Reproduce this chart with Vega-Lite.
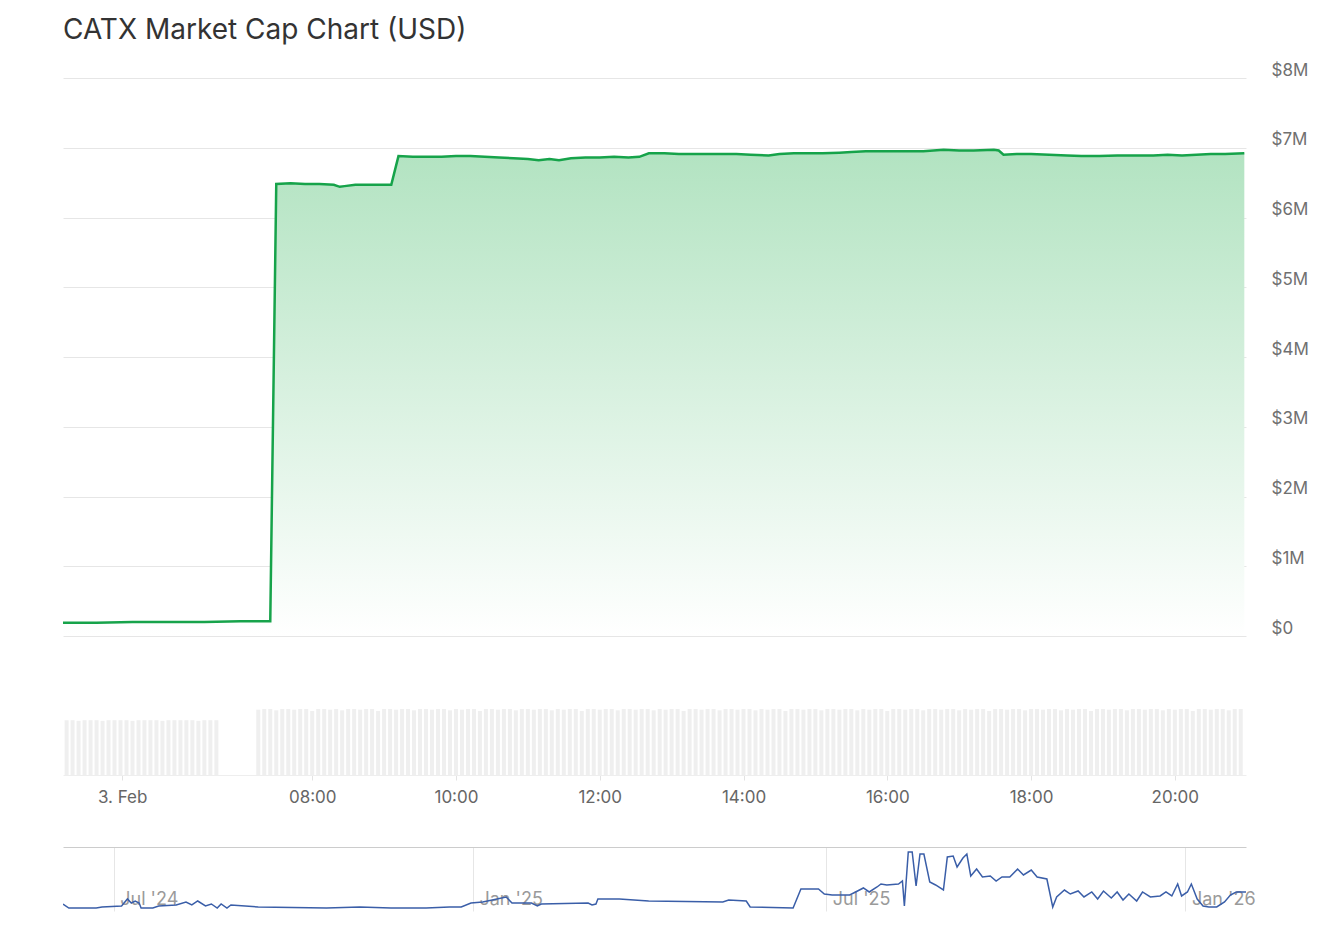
{
  "$schema": "https://vega.github.io/schema/vega-lite/v6.json",
  "padding": {"left": 58, "top": 17, "right": 10, "bottom": 10},
  "background": "white",
  "title": {"text": "CATX Market Cap Chart (USD)", "anchor": "start", "frame": "group", "font": "Inter", "fontSize": 28, "fontWeight": 400, "color": "#333333", "offset": 16},
  "config": {"view": {"stroke": null}, "font": "Inter"},
  "spacing": 42,
  "datasets": {
    "volume": [
      {"m":275,"vol":83},{"m":280,"vol":83},{"m":285,"vol":82},{"m":290,"vol":83},{"m":295,"vol":83},{"m":300,"vol":83},{"m":305,"vol":82},{"m":310,"vol":83},{"m":315,"vol":83},{"m":320,"vol":83},{"m":325,"vol":83},{"m":330,"vol":82},{"m":335,"vol":83},{"m":340,"vol":83},{"m":345,"vol":83},{"m":350,"vol":83},{"m":355,"vol":82},{"m":360,"vol":83},{"m":365,"vol":83},{"m":370,"vol":83},{"m":375,"vol":83},{"m":380,"vol":83},{"m":385,"vol":82},{"m":390,"vol":83},{"m":395,"vol":83},{"m":400,"vol":83},
      {"m":435,"vol":99},{"m":440,"vol":100},{"m":445,"vol":100},{"m":450,"vol":98},{"m":455,"vol":100},{"m":460,"vol":100},{"m":465,"vol":99},{"m":470,"vol":100},{"m":475,"vol":100},{"m":480,"vol":97},{"m":485,"vol":100},{"m":490,"vol":100},{"m":495,"vol":99},{"m":500,"vol":100},{"m":505,"vol":98},{"m":510,"vol":100},{"m":515,"vol":100},{"m":520,"vol":99},{"m":525,"vol":100},{"m":530,"vol":100},{"m":535,"vol":97},{"m":540,"vol":100},{"m":545,"vol":100},{"m":550,"vol":99},{"m":555,"vol":100},{"m":560,"vol":100},{"m":565,"vol":98},{"m":570,"vol":100},{"m":575,"vol":100},{"m":580,"vol":99},{"m":585,"vol":100},{"m":590,"vol":100},{"m":595,"vol":98},{"m":600,"vol":100},{"m":605,"vol":99},{"m":610,"vol":100},{"m":615,"vol":100},{"m":620,"vol":97},{"m":625,"vol":100},{"m":630,"vol":100},{"m":635,"vol":99},{"m":640,"vol":100},{"m":645,"vol":100},{"m":650,"vol":98},{"m":655,"vol":100},{"m":660,"vol":100},{"m":665,"vol":99},{"m":670,"vol":100},{"m":675,"vol":100},{"m":680,"vol":98},{"m":685,"vol":100},{"m":690,"vol":99},{"m":695,"vol":100},{"m":700,"vol":100},{"m":705,"vol":97},{"m":710,"vol":100},{"m":715,"vol":100},{"m":720,"vol":99},{"m":725,"vol":100},{"m":730,"vol":100},{"m":735,"vol":98},{"m":740,"vol":100},{"m":745,"vol":100},{"m":750,"vol":99},{"m":755,"vol":100},{"m":760,"vol":100},{"m":765,"vol":98},{"m":770,"vol":100},{"m":775,"vol":99},{"m":780,"vol":100},{"m":785,"vol":100},{"m":790,"vol":97},{"m":795,"vol":100},{"m":800,"vol":100},{"m":805,"vol":99},{"m":810,"vol":100},{"m":815,"vol":100},{"m":820,"vol":98},{"m":825,"vol":100},{"m":830,"vol":100},{"m":835,"vol":99},{"m":840,"vol":100},{"m":845,"vol":100},{"m":850,"vol":98},{"m":855,"vol":100},{"m":860,"vol":99},{"m":865,"vol":100},{"m":870,"vol":100},{"m":875,"vol":97},{"m":880,"vol":100},{"m":885,"vol":100},{"m":890,"vol":99},{"m":895,"vol":100},{"m":900,"vol":100},{"m":905,"vol":98},{"m":910,"vol":100},{"m":915,"vol":100},{"m":920,"vol":99},{"m":925,"vol":100},{"m":930,"vol":100},{"m":935,"vol":98},{"m":940,"vol":100},{"m":945,"vol":99},{"m":950,"vol":100},{"m":955,"vol":100},{"m":960,"vol":97},{"m":965,"vol":100},{"m":970,"vol":100},{"m":975,"vol":99},{"m":980,"vol":100},{"m":985,"vol":100},{"m":990,"vol":98},{"m":995,"vol":100},{"m":1000,"vol":100},{"m":1005,"vol":99},{"m":1010,"vol":100},{"m":1015,"vol":100},{"m":1020,"vol":98},{"m":1025,"vol":100},{"m":1030,"vol":99},{"m":1035,"vol":100},{"m":1040,"vol":100},{"m":1045,"vol":97},{"m":1050,"vol":100},{"m":1055,"vol":100},{"m":1060,"vol":99},{"m":1065,"vol":100},{"m":1070,"vol":100},{"m":1075,"vol":98},{"m":1080,"vol":100},{"m":1085,"vol":100},{"m":1090,"vol":99},{"m":1095,"vol":100},{"m":1100,"vol":100},{"m":1105,"vol":98},{"m":1110,"vol":100},{"m":1115,"vol":99},{"m":1120,"vol":100},{"m":1125,"vol":100},{"m":1130,"vol":97},{"m":1135,"vol":100},{"m":1140,"vol":100},{"m":1145,"vol":99},{"m":1150,"vol":100},{"m":1155,"vol":100},{"m":1160,"vol":98},{"m":1165,"vol":100},{"m":1170,"vol":100},{"m":1175,"vol":99},{"m":1180,"vol":100},{"m":1185,"vol":100},{"m":1190,"vol":98},{"m":1195,"vol":100},{"m":1200,"vol":99},{"m":1205,"vol":100},{"m":1210,"vol":100},{"m":1215,"vol":97},{"m":1220,"vol":100},{"m":1225,"vol":100},{"m":1230,"vol":99},{"m":1235,"vol":100},{"m":1240,"vol":100},{"m":1245,"vol":98},{"m":1250,"vol":100},{"m":1255,"vol":100}
    ],
    "cap": [
      {"m":272,"cap":0.19},{"m":300,"cap":0.19},{"m":330,"cap":0.2},{"m":360,"cap":0.2},{"m":390,"cap":0.2},{"m":420,"cap":0.21},{"m":445,"cap":0.21},
      {"m":450,"cap":6.48},{"m":462,"cap":6.49},{"m":474,"cap":6.48},{"m":486,"cap":6.48},{"m":498,"cap":6.47},{"m":503,"cap":6.44},{"m":507,"cap":6.45},{"m":516,"cap":6.47},{"m":528,"cap":6.47},{"m":540,"cap":6.47},{"m":546,"cap":6.47},
      {"m":552,"cap":6.88},{"m":564,"cap":6.87},{"m":576,"cap":6.87},{"m":588,"cap":6.87},{"m":600,"cap":6.88},{"m":612,"cap":6.88},{"m":624,"cap":6.87},{"m":636,"cap":6.86},{"m":648,"cap":6.85},{"m":660,"cap":6.84},{"m":669,"cap":6.82},{"m":678,"cap":6.84},{"m":686,"cap":6.82},{"m":696,"cap":6.85},{"m":708,"cap":6.86},{"m":720,"cap":6.86},{"m":732,"cap":6.87},{"m":744,"cap":6.86},{"m":753,"cap":6.87},
      {"m":761,"cap":6.92},{"m":774,"cap":6.92},{"m":786,"cap":6.91},{"m":798,"cap":6.91},{"m":810,"cap":6.91},{"m":822,"cap":6.91},{"m":834,"cap":6.91},{"m":846,"cap":6.9},{"m":861,"cap":6.89},{"m":870,"cap":6.91},{"m":882,"cap":6.92},{"m":894,"cap":6.92},{"m":906,"cap":6.92},{"m":920,"cap":6.93},{"m":930,"cap":6.94},{"m":942,"cap":6.95},{"m":954,"cap":6.95},{"m":966,"cap":6.95},{"m":978,"cap":6.95},{"m":990,"cap":6.95},{"m":1007,"cap":6.97},{"m":1020,"cap":6.96},{"m":1032,"cap":6.96},{"m":1049,"cap":6.97},{"m":1053,"cap":6.96},
      {"m":1057,"cap":6.9},{"m":1068,"cap":6.91},{"m":1080,"cap":6.91},{"m":1095,"cap":6.9},{"m":1110,"cap":6.89},{"m":1122,"cap":6.88},{"m":1137,"cap":6.88},{"m":1152,"cap":6.89},{"m":1170,"cap":6.89},{"m":1182,"cap":6.89},{"m":1194,"cap":6.9},{"m":1206,"cap":6.89},{"m":1218,"cap":6.9},{"m":1230,"cap":6.91},{"m":1242,"cap":6.91},{"m":1258,"cap":6.92}
    ],
    "nav": [
      {"date":"2024-06-05","v":2.54},{"date":"2024-06-08","v":1.09},{"date":"2024-06-22","v":1.09},{"date":"2024-06-25","v":1.45},{"date":"2024-07-05","v":1.82},{"date":"2024-07-08","v":4.36},{"date":"2024-07-10","v":2.9},{"date":"2024-07-12","v":3.63},{"date":"2024-07-14","v":2.9},{"date":"2024-07-15","v":1.09},{"date":"2024-07-21","v":1.09},{"date":"2024-07-24","v":1.82},{"date":"2024-08-02","v":2.18},{"date":"2024-08-07","v":3.27},{"date":"2024-08-10","v":2.18},{"date":"2024-08-13","v":3.63},{"date":"2024-08-17","v":1.82},{"date":"2024-08-20","v":2.54},{"date":"2024-08-23","v":1.09},{"date":"2024-08-25","v":2.54},{"date":"2024-08-28","v":1.09},{"date":"2024-08-30","v":2.18},{"date":"2024-09-13","v":1.45},{"date":"2024-10-18","v":1.09},{"date":"2024-11-04","v":1.45},{"date":"2024-11-20","v":1.09},{"date":"2024-12-08","v":1.09},{"date":"2024-12-20","v":1.45},{"date":"2024-12-26","v":1.45},{"date":"2024-12-31","v":2.9},
      {"date":"2025-01-06","v":3.27},{"date":"2025-01-18","v":5.08},{"date":"2025-01-21","v":2.9},{"date":"2025-01-31","v":2.9},{"date":"2025-02-03","v":1.82},{"date":"2025-02-05","v":2.54},{"date":"2025-03-01","v":2.9},{"date":"2025-03-03","v":2.18},{"date":"2025-03-05","v":2.54},{"date":"2025-03-06","v":4.36},{"date":"2025-03-17","v":4.36},{"date":"2025-04-01","v":3.63},{"date":"2025-05-09","v":3.27},{"date":"2025-05-12","v":3.99},{"date":"2025-05-21","v":3.63},{"date":"2025-05-23","v":1.45},{"date":"2025-06-14","v":1.09},{"date":"2025-06-18","v":7.99},{"date":"2025-06-27","v":7.99},{"date":"2025-06-30","v":6.17},
      {"date":"2025-07-04","v":5.81},{"date":"2025-07-13","v":5.81},{"date":"2025-07-16","v":6.9},{"date":"2025-07-20","v":8.35},{"date":"2025-07-23","v":6.9},{"date":"2025-07-27","v":8.71},{"date":"2025-07-29","v":9.8},{"date":"2025-08-01","v":9.44},{"date":"2025-08-07","v":9.8},{"date":"2025-08-09","v":10.89},{"date":"2025-08-10","v":1.82},{"date":"2025-08-12","v":21.42},{"date":"2025-08-14","v":21.42},{"date":"2025-08-16","v":9.08},{"date":"2025-08-18","v":20.69},{"date":"2025-08-20","v":20.69},{"date":"2025-08-23","v":10.53},{"date":"2025-08-26","v":9.44},{"date":"2025-08-30","v":7.62},{"date":"2025-09-01","v":19.6},{"date":"2025-09-04","v":19.97},{"date":"2025-09-06","v":15.97},{"date":"2025-09-09","v":19.24},{"date":"2025-09-11","v":20.69},{"date":"2025-09-13","v":12.71},{"date":"2025-09-16","v":15.25},{"date":"2025-09-19","v":12.34},{"date":"2025-09-23","v":12.71},{"date":"2025-09-26","v":10.89},{"date":"2025-09-29","v":12.34},
      {"date":"2025-10-03","v":12.34},{"date":"2025-10-07","v":15.25},{"date":"2025-10-10","v":13.07},{"date":"2025-10-14","v":14.88},{"date":"2025-10-17","v":12.34},{"date":"2025-10-22","v":11.62},{"date":"2025-10-25","v":1.45},{"date":"2025-10-27","v":5.08},{"date":"2025-10-31","v":7.62},{"date":"2025-11-03","v":6.17},{"date":"2025-11-07","v":7.26},{"date":"2025-11-10","v":5.08},{"date":"2025-11-14","v":6.9},{"date":"2025-11-17","v":4.36},{"date":"2025-11-20","v":7.26},{"date":"2025-11-24","v":4.72},{"date":"2025-11-27","v":6.9},{"date":"2025-11-30","v":3.99},{"date":"2025-12-03","v":6.17},{"date":"2025-12-07","v":3.63},{"date":"2025-12-10","v":6.9},{"date":"2025-12-14","v":5.08},{"date":"2025-12-19","v":5.45},{"date":"2025-12-22","v":6.9},{"date":"2025-12-25","v":5.45},{"date":"2025-12-28","v":9.8},{"date":"2025-12-30","v":5.45},
      {"date":"2026-01-02","v":6.9},{"date":"2026-01-04","v":9.8},{"date":"2026-01-07","v":4.36},{"date":"2026-01-10","v":1.82},{"date":"2026-01-13","v":1.45},{"date":"2026-01-17","v":1.45},{"date":"2026-01-21","v":3.27},{"date":"2026-01-24","v":5.81},{"date":"2026-01-27","v":6.9},{"date":"2026-02-01","v":6.9}
    ]
  },
  "vconcat": [
    {
      "width": 1183,
      "height": 697,
      "layer": [
        {
          "data": {"name": "volume"},
          "mark": {"type": "bar", "size": 4, "color": "#efefef"},
          "encoding": {
            "x": {"field": "m", "type": "quantitative", "scale": {"domain": [272, 1259.4], "nice": false, "zero": false, "padding": 0},
              "axis": {"values": [321.4, 480, 600, 720, 840, 960, 1080, 1200],
                "labelExpr": "datum.value < 400 ? '3. Feb' : (datum.value < 600 ? '0' : '') + (datum.value / 60) + ':00'",
                "title": null, "grid": false, "domain": true, "domainColor": "#eeeeee", "ticks": true, "tickColor": "#e3e3e3", "tickSize": 5,
                "labelPadding": 9, "labelFontSize": 17, "labelColor": "#666666", "labelFont": "Inter", "labelFlush": false, "labelOverlap": false}},
            "y": {"field": "vol", "type": "quantitative", "scale": {"domain": [0, 1056], "nice": false}, "axis": null}
          }
        },
        {
          "data": {"name": "cap"},
          "layer": [
            {
              "mark": {"type": "area", "color": {"gradient": "linear", "x1": 0, "y1": 0, "x2": 0, "y2": 1, "stops": [{"offset": 0, "color": "#b2e3c1"}, {"offset": 1, "color": "#ffffff"}]}},
              "encoding": {
                "x": {"field": "m", "type": "quantitative"},
                "y": {"field": "cap", "type": "quantitative", "stack": null, "scale": {"domain": [-1.9928, 8], "nice": false, "zero": false},
                  "axis": {"orient": "right", "values": [0, 1, 2, 3, 4, 5, 6, 7, 8],
                    "labelExpr": "datum.value == 0 ? '$0' : '$' + datum.value + 'M'",
                    "title": null, "domain": false, "ticks": false, "grid": true, "gridColor": "#e6e6e6",
                    "labelPadding": 25, "labelAlign": "left", "labelBaseline": "alphabetic", "labelOffset": -3,
                    "labelFontSize": 17, "labelColor": "#707070", "labelFont": "Inter"}},
                "y2": {"datum": 0}
              }
            },
            {
              "mark": {"type": "line", "color": "#16a34a", "strokeWidth": 2.5},
              "encoding": {
                "x": {"field": "m", "type": "quantitative"},
                "y": {"field": "cap", "type": "quantitative"}
              }
            }
          ]
        }
      ],
      "resolve": {"scale": {"y": "independent"}, "axis": {"y": "independent"}}
    },
    {
      "width": 1183,
      "height": 64,
      "data": {"name": "nav"},
      "mark": {"type": "line", "color": "#3a5ea8", "strokeWidth": 1.5, "clip": true},
      "encoding": {
        "x": {"field": "date", "type": "temporal",
          "scale": {"type": "utc", "domain": [{"year": 2024, "month": 6, "date": 5, "utc": true}, {"year": 2026, "month": 2, "date": 1, "utc": true}]},
          "axis": {"orient": "top",
            "values": [{"year": 2024, "month": 7, "date": 1, "utc": true}, {"year": 2025, "month": 1, "date": 1, "utc": true}, {"year": 2025, "month": 7, "date": 1, "utc": true}, {"year": 2026, "month": 1, "date": 1, "utc": true}],
            "format": "%b '%y", "title": null, "grid": true, "gridColor": "#e6e6e6", "domain": true, "domainColor": "#cccccc",
            "ticks": false, "tickSize": 0, "labelAlign": "left", "labelBaseline": "alphabetic", "labelPadding": -57, "labelOffset": 6,
            "labelFontSize": 18, "labelColor": "#9a9a9a", "labelFont": "Inter", "labelFlush": false, "labelOverlap": false}},
        "y": {"field": "v", "type": "quantitative", "scale": {"domain": [0, 23.23], "nice": false}, "axis": null}
      }
    }
  ]
}
